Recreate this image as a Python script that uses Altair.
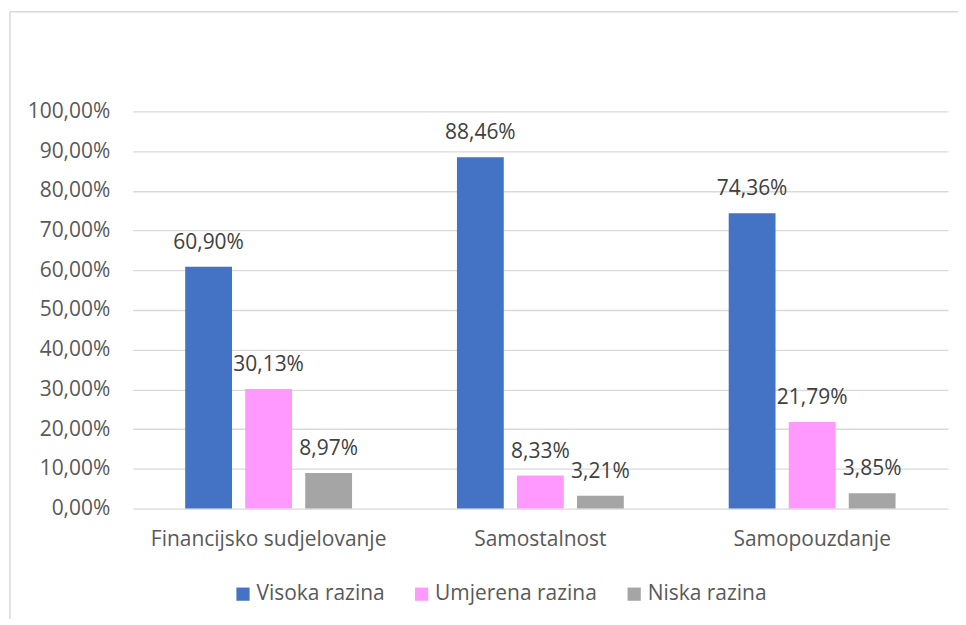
import altair as alt
import pandas as pd

categories = ["Financijsko sudjelovanje", "Samostalnost", "Samopouzdanje"]
series = ["Visoka razina", "Umjerena razina", "Niska razina"]
visoka = [60.90, 88.46, 74.36]
umjerena = [30.13, 8.33, 21.79]
niska = [8.97, 3.21, 3.85]
colors = ["#4472C4", "#FF99FF", "#A5A5A5"]
y_ticks = [0, 10, 20, 30, 40, 50, 60, 70, 80, 90, 100]

rows = []
for s, vals in zip(series, [visoka, umjerena, niska]):
    for c, v in zip(categories, vals):
        rows.append({"cat": c, "series": s, "value": v,
                     "label": f"{v:.2f}".replace(".", ",") + "%"})
df = pd.DataFrame(rows)

FONT = "Open Sans"
TXT = "#595959"
FS = 21

base = alt.Chart(df).encode(
    x=alt.X("cat:N", sort=categories, title=None,
            scale=alt.Scale(paddingInner=0.386, paddingOuter=0.193),
            axis=alt.Axis(labelAngle=0, ticks=False, domain=False, labelPadding=20,
                          labelFontSize=FS, labelColor=TXT, labelFont=FONT, grid=False,
                          labelLimit=500)),
    xOffset=alt.XOffset("series:N", sort=series,
                        scale=alt.Scale(paddingInner=0.22, paddingOuter=0)),
    y=alt.Y("value:Q", title=None,
            scale=alt.Scale(domain=[0, 100], nice=False),
            axis=alt.Axis(values=y_ticks, ticks=False, domain=False, labelPadding=23,
                          labelFontSize=FS, labelColor=TXT, labelFont=FONT,
                          labelOverlap=False, labelBaseline="middle",
                          gridColor="#D9D9D9", gridWidth=1.3,
                          labelExpr="replace(format(datum.value, '.2f'), '.', ',') + '%'")),
)

bars = base.mark_bar().encode(
    color=alt.Color("series:N", sort=series,
                    scale=alt.Scale(domain=series, range=colors),
                    legend=alt.Legend(title=None, orient="none", direction="horizontal",
                                      legendX=100, legendY=473, symbolType="square",
                                      symbolSize=175, symbolStrokeWidth=0,
                                      labelFontSize=FS, labelColor=TXT, labelFont=FONT,
                                      labelLimit=500, columnPadding=26, labelOffset=3)),
)

labels = base.mark_text(baseline="alphabetic", dy=-18, fontSize=FS, color="#404040",
                        font=FONT).encode(
    text="label:N",
)

frame_top = alt.Chart(pd.DataFrame({"a": [0]})).mark_rule(color="#D9D9D9", strokeWidth=1.5).encode(
    x=alt.value(-123), x2=alt.value(840), y=alt.value(-100))
frame_left = alt.Chart(pd.DataFrame({"a": [0]})).mark_rule(color="#D9D9D9", strokeWidth=1.5).encode(
    x=alt.value(-123), y=alt.value(-100), y2=alt.value(520))

chart = alt.layer(frame_top, frame_left, bars, labels).properties(
    width=817, height=398,
    autosize=alt.AutoSizeParams(type="none"),
    padding={"left": 125, "top": 103, "right": 10, "bottom": 110},
).configure_view(stroke=None)

chart.save("out.html", embed_options={"renderer": "svg", "actions": False})
